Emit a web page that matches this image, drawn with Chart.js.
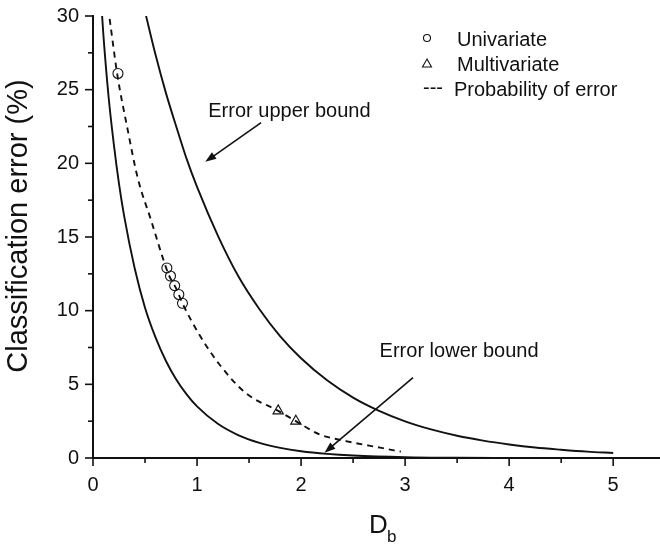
<!DOCTYPE html>
<html>
<head>
<meta charset="utf-8">
<script src="https://cdn.jsdelivr.net/npm/chart.js@4.4.1/dist/chart.umd.min.js"></script>
<style>
  html,body{margin:0;padding:0;background:#fff;}
  #wrap{width:660px;height:545px;position:relative;}
</style>
</head>
<body>
<div id="wrap"><canvas id="c" width="660" height="545"></canvas></div>
<script>
/* --- DATA --- */
// Error upper bound (solid, right curve)
const upperX = [0.5,0.6,0.7,0.8,0.9,1.0,1.2,1.4,1.6,1.8,2.0,2.25,2.5,2.75,3.0,3.25,3.5,3.75,4.0,4.25,4.5,4.75,5.0];
const upperY = [30.3,27.4,24.8,22.5,20.3,18.4,15.1,12.3,10.1,8.26,6.77,5.27,4.10,3.20,2.49,1.94,1.51,1.18,0.92,0.71,0.56,0.43,0.34];
// Error lower bound (solid, left curve)
const lowerX = [0.07,0.1,0.15,0.2,0.25,0.3,0.4,0.5,0.6,0.7,0.8,0.9,1.0,1.2,1.4,1.6,1.8,2.0,2.25,2.5,3.0,3.5,4.0,5.0];
const lowerY = [31.9,28.7,24.5,21.3,18.6,16.4,12.9,10.2,8.2,6.6,5.33,4.32,3.50,2.32,1.54,1.03,0.69,0.46,0.28,0.17,0.06,0.02,0.01,0.0];
// Probability of error (dashed)
const probX = [0.16,0.234,0.33,0.43,0.56,0.67,0.73,0.80,0.86,1.02,1.21,1.47,1.78,1.95,2.18,2.43,2.76,2.96];
const probY = [29.8,26.0,22.4,19.0,16.1,13.6,12.4,11.5,10.5,8.4,6.4,4.4,3.2,2.5,1.6,1.15,0.7,0.43];
// Univariate (circles)
const uniX = [0.24,0.71,0.745,0.785,0.825,0.86];
const uniY = [26.1,12.9,12.35,11.7,11.1,10.5];
// Multivariate (triangles)
const multiX = [1.78,1.95];
const multiY = [3.2,2.5];
// Axis ticks (major labelled, minor unlabelled)
const xTicks = [0,1,2,3,4,5];
const xMinor = [0.5,1.5,2.5,3.5,4.5];
const yTicks = [0,5,10,15,20,25,30];
const yMinor = [2.5,7.5,12.5,17.5,22.5,27.5];

const pts = (xs,ys)=>xs.map((x,i)=>({x:x,y:ys[i]}));
const INK = '#111';
const FONT = 'Arial, "Liberation Sans", sans-serif';

const solid = {showLine:true,borderColor:INK,borderWidth:1.9,pointRadius:0,cubicInterpolationMode:'monotone',fill:false};

/* --- DECORATION PLUGIN: tick marks, titles, legend, arrows --- */
function arrow(ctx,x1,y1,x2,y2){
  const a = Math.atan2(y2-y1,x2-x1), L = 11, W = 4;
  ctx.beginPath(); ctx.moveTo(x1,y1); ctx.lineTo(x2-Math.cos(a)*L*0.6,y2-Math.sin(a)*L*0.6); ctx.stroke();
  ctx.beginPath();
  ctx.moveTo(x2,y2);
  ctx.lineTo(x2-Math.cos(a)*L+Math.sin(a)*W, y2-Math.sin(a)*L-Math.cos(a)*W);
  ctx.lineTo(x2-Math.cos(a)*L-Math.sin(a)*W, y2-Math.sin(a)*L+Math.cos(a)*W);
  ctx.closePath(); ctx.fill();
}

const deco = {
  id:'deco',
  afterDraw(chart){
    const {ctx, chartArea:ca, scales:{x,y}} = chart;
    ctx.save();
    ctx.strokeStyle = INK; ctx.fillStyle = INK; ctx.lineWidth = 1.6;
    // tick marks
    const xm = (v,len)=>{const px=x.getPixelForValue(v); ctx.beginPath(); ctx.moveTo(px,ca.bottom); ctx.lineTo(px,ca.bottom+len); ctx.stroke();};
    const ym = (v,len)=>{const py=y.getPixelForValue(v); ctx.beginPath(); ctx.moveTo(ca.left,py); ctx.lineTo(ca.left-len,py); ctx.stroke();};
    xTicks.forEach(v=>xm(v,8)); xMinor.forEach(v=>xm(v,5));
    yTicks.forEach(v=>ym(v,8)); yMinor.forEach(v=>ym(v,5));
    // y title
    ctx.save();
    ctx.translate(19,226); ctx.rotate(-Math.PI/2);
    ctx.font = '29px '+FONT; ctx.textAlign='center'; ctx.textBaseline='middle';
    ctx.fillText('Classification error (%)',0,0);
    ctx.restore();
    // x title D_b
    ctx.textAlign='left'; ctx.textBaseline='alphabetic';
    ctx.font = '26px '+FONT; ctx.fillText('D',369,533);
    ctx.font = '17px '+FONT; ctx.fillText('b',387,542);
    // legend
    ctx.font = '20px '+FONT; ctx.textBaseline='middle';
    ctx.lineWidth = 1.1;
    ctx.beginPath(); ctx.arc(427,38,3.5,0,Math.PI*2); ctx.stroke();
    ctx.fillText('Univariate',457,40);
    ctx.beginPath(); ctx.moveTo(427,59); ctx.lineTo(431.5,67); ctx.lineTo(422.5,67); ctx.closePath(); ctx.stroke();
    ctx.fillText('Multivariate',457,65);
    ctx.fillText('---',423,88);
    ctx.fillText('Probability of error',454,90);
    // annotations
    ctx.lineWidth = 1.6;
    ctx.fillText('Error upper bound', x.getPixelForValue(1.108), y.getPixelForValue(23.5));
    arrow(ctx, x.getPixelForValue(1.616), y.getPixelForValue(22.76), x.getPixelForValue(1.079), y.getPixelForValue(20.1));
    ctx.fillText('Error lower bound', x.getPixelForValue(2.755), y.getPixelForValue(7.26));
    arrow(ctx, x.getPixelForValue(3.076), y.getPixelForValue(5.45), x.getPixelForValue(2.225), y.getPixelForValue(0.36));
    ctx.restore();
  }
};

const noPad = s=>{s.paddingTop=0; s.paddingBottom=0; s.paddingLeft=0; s.paddingRight=0;};

new Chart(document.getElementById('c'), {
  type:'scatter',
  data:{datasets:[
    {label:'Error upper bound', data:pts(upperX,upperY), ...solid},
    {label:'Error lower bound', data:pts(lowerX,lowerY), ...solid},
    {label:'Probability of error', data:pts(probX,probY), ...solid, borderDash:[6,5]},
    {label:'Univariate', data:pts(uniX,uniY), showLine:false, pointStyle:'circle', pointRadius:5,
     borderColor:INK, backgroundColor:'rgba(0,0,0,0)', pointBorderWidth:1.1},
    {label:'Multivariate', data:pts(multiX,multiY), showLine:false, pointStyle:'triangle', pointRadius:6,
     borderColor:INK, backgroundColor:'rgba(0,0,0,0)', pointBorderWidth:1.1}
  ]},
  options:{
    responsive:false, animation:false, devicePixelRatio:1,
    layout:{autoPadding:false, padding:{top:16,right:0,left:0,bottom:0}},
    plugins:{legend:{display:false}, tooltip:{enabled:false}},
    scales:{
      x:{type:'linear', min:0, max:5.45,
         afterBuildTicks:s=>{s.ticks = xTicks.map(v=>({value:v}));},
         ticks:{autoSkip:false, maxRotation:0, padding:15, color:INK, font:{size:20,family:FONT}},
         grid:{display:false, drawTicks:false},
         border:{display:true, color:INK, width:2},
         afterFit:s=>{s.height = 87; noPad(s);}},
      y:{type:'linear', min:0, max:30,
         afterBuildTicks:s=>{s.ticks = yTicks.map(v=>({value:v}));},
         ticks:{autoSkip:false, padding:14, color:INK, font:{size:20,family:FONT}},
         grid:{display:false, drawTicks:false},
         border:{display:true, color:INK, width:2},
         afterFit:s=>{s.width = 93; noPad(s);}}
    }
  },
  plugins:[deco]
});
</script>
</body>
</html>
